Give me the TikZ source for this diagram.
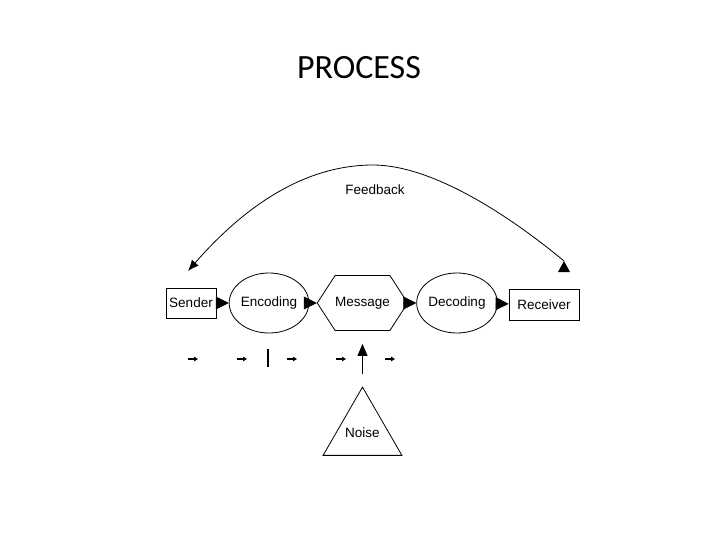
\documentclass[tikz,border=0pt]{standalone}
\usepackage{fontspec}
\setmainfont{Liberation Sans}
\newfontfamily\titlefont{Carlito}
\usetikzlibrary{positioning,arrows.meta,shapes.geometric,shapes.symbols}
\tikzset{
  stage/.style={draw,line width=0.8pt,inner sep=0pt,font=\fontsize{13.5}{16}\selectfont},
  boxn/.style={stage,rectangle},
  ovaln/.style={stage,ellipse,minimum width=66,minimum height=60},
  hexn/.style={stage,signal,signal to=west and east,signal pointer angle=114,
    minimum width=75,minimum height=55},
  flow/.style={-{Triangle[length=13pt,width=13pt]},line width=0.8pt},
  tinyarr/.style={-{Triangle[length=4pt,width=4.5pt]},line width=1.2pt},
  fback/.style={line width=0.8pt},
}
\begin{document}
\begin{tikzpicture}[x=1pt,y=-1pt]
  \useasboundingbox (0,0) rectangle (720,540);
  \node[font=\titlefont\fontsize{34}{40}\selectfont] (title) at (359,67.5) {PROCESS};

  % main chain
  \node[boxn,minimum width=50,minimum height=30] (sender) at (191,303) {Sender};
  \node[ovaln] (enc) at (269,303) {Encoding};
  \node[hexn] (msg) at (362.5,303) {Message};
  \node[ovaln,minimum width=68] (dec) at (457,303) {Decoding};
  \node[boxn,minimum width=70,minimum height=31] (recv) at (544,304.5) {Receiver};
  \draw[flow] (sender) -- (enc);
  \draw[flow] (enc) -- (msg);
  \draw[flow] (msg) -- (dec);
  \draw[flow] (dec) -- (recv);

  % feedback loop
  \coordinate (fbL) at (188,271);
  \coordinate (fbR) at (564,261);
  \node[font=\fontsize{13.5}{16}\selectfont] (fbtxt) at (375,190) {Feedback};
  \draw[fback,{Latex[length=11pt,width=9pt]}-] (fbL) .. controls (250,200) and (310,165) .. (373,165)
    .. controls (430,165) and (505,212) .. (fbR);
  \fill (fbR) -- ++(6,11) -- ++(-12,0) -- cycle;

  % noise
  \node[stage,regular polygon,regular polygon sides=3,minimum size=91] (noise) at (362.5,432.6) {};
  \node[font=\fontsize{13.5}{16}\selectfont] (noisetxt) at (362.5,433) {Noise};
  \draw[flow,-{Triangle[length=12pt,width=10pt]},shorten <=12pt,shorten >=13pt] (noise.corner 1) -- (msg.south);

  % small arrows under the chain
  \foreach \x in {188,237,287,336,385}
    \draw[tinyarr] (\x,359) -- ++(10,0);
  \draw[line width=2pt] (268,349) -- (268,367);
\end{tikzpicture}
\end{document}
